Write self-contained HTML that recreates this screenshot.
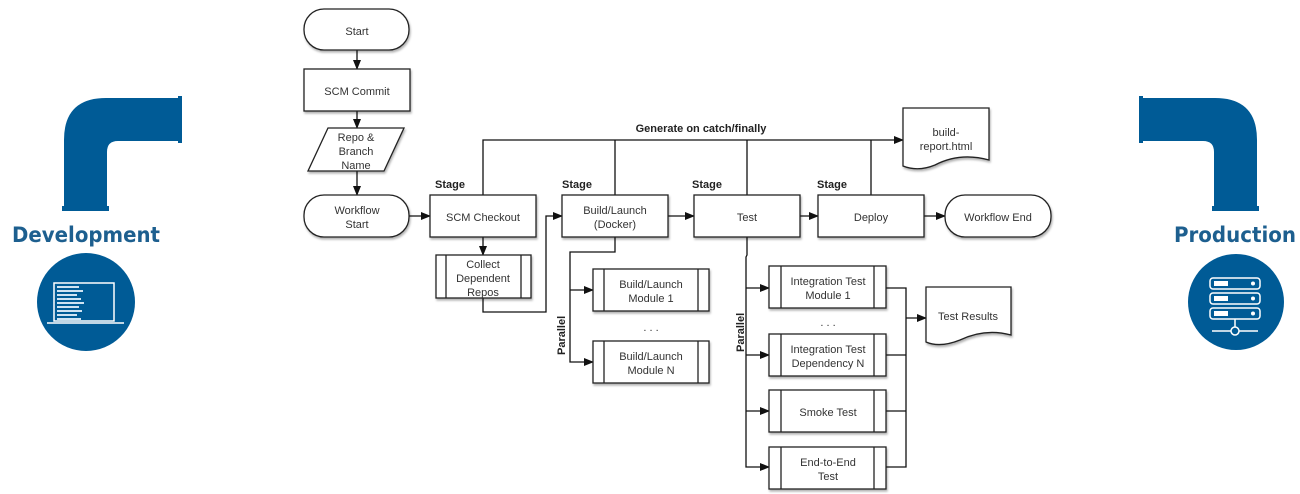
<!DOCTYPE html>
<html><head><meta charset="utf-8"><style>
html,body{margin:0;padding:0;background:#fff;}
svg{display:block;}
.t{font-family:"Liberation Sans",sans-serif;font-size:11px;fill:#333;text-anchor:middle;}
.b{font-family:"Liberation Sans",sans-serif;font-size:11px;font-weight:bold;fill:#222;}
.big{font-family:"DejaVu Sans",sans-serif;font-size:21px;font-weight:bold;fill:#1d5f8f;}
</style></head><body>
<svg width="1300" height="494" viewBox="0 0 1300 494" xmlns="http://www.w3.org/2000/svg">
<defs>
<marker id="a" markerWidth="10" markerHeight="8" refX="9" refY="4" orient="auto" markerUnits="userSpaceOnUse"><path d="M0,0 L10,4 L0,8 z" fill="#111"/></marker>
<filter id="s" x="-10%" y="-10%" width="130%" height="140%"><feDropShadow dx="1" dy="2" stdDeviation="1" flood-color="#000" flood-opacity="0.3"/></filter>
</defs>
<g fill="#005b96">
<path d="M64,210 L64,140 Q64,98 106,98 L180,98 L180,141 L118,141 Q107,141 107,152 L107,210 Z"/>
<rect x="62" y="206" width="47" height="5"/>
<rect x="178" y="96" width="4" height="47"/>
<path d="M1257,210 L1257,140 Q1257,98 1215,98 L1141,98 L1141,141 L1203,141 Q1214,141 1214,152 L1214,210 Z"/>
<rect x="1212" y="206" width="47" height="5"/>
<rect x="1139" y="96" width="4" height="47"/>
<circle cx="86" cy="302" r="49"/>
<circle cx="1236" cy="302" r="48"/>
</g>
<text class="big" x="12" y="242" textLength="148" lengthAdjust="spacingAndGlyphs">Development</text>
<text class="big" x="1174" y="242" textLength="122" lengthAdjust="spacingAndGlyphs">Production</text>
<g stroke="#fff" fill="none" stroke-width="1.5">
<rect x="54" y="283" width="60" height="38"/>
<line x1="47" y1="323" x2="124" y2="323"/>
</g>
<g fill="#cfe3f2">
<rect x="57" y="286" width="22" height="2"/><rect x="57" y="290" width="26" height="2"/><rect x="57" y="294" width="20" height="2"/><rect x="57" y="298" width="24" height="2"/><rect x="57" y="302" width="27" height="2"/><rect x="57" y="306" width="22" height="2"/><rect x="57" y="310" width="25" height="2"/><rect x="57" y="314" width="20" height="2"/><rect x="57" y="318" width="24" height="2"/>
</g>
<g stroke="#fff" fill="none" stroke-width="1.5">
<rect x="1210" y="278" width="50" height="11" rx="3"/>
<rect x="1210" y="293" width="50" height="11" rx="3"/>
<rect x="1210" y="308" width="50" height="11" rx="3"/>
<line x1="1235" y1="319" x2="1235" y2="327"/>
<line x1="1212" y1="331" x2="1231" y2="331"/><line x1="1239" y1="331" x2="1258" y2="331"/>
<circle cx="1235" cy="331" r="4"/>
</g>
<g fill="#fff"><circle cx="1253" cy="283.5" r="2"/><circle cx="1253" cy="298.5" r="2"/><circle cx="1253" cy="313.5" r="2"/>
<rect x="1214" y="281" width="14" height="5"/><rect x="1214" y="296" width="14" height="5"/><rect x="1214" y="311" width="14" height="5"/></g>

<g stroke="#111" stroke-width="1.3" fill="none">
<line x1="357" y1="50" x2="357" y2="69" marker-end="url(#a)"/>
<line x1="357" y1="111" x2="357" y2="128" marker-end="url(#a)"/>
<line x1="357" y1="171" x2="357" y2="195" marker-end="url(#a)"/>
<line x1="409" y1="216" x2="430" y2="216" marker-end="url(#a)"/>
<line x1="483" y1="237" x2="483" y2="255" marker-end="url(#a)"/>
<polyline points="483,298 483,312 546,312 546,216 562,216" marker-end="url(#a)"/>
<line x1="668" y1="216" x2="694" y2="216" marker-end="url(#a)"/>
<line x1="800" y1="216" x2="818" y2="216" marker-end="url(#a)"/>
<line x1="924" y1="216" x2="945" y2="216" marker-end="url(#a)"/>
<polyline points="483,195 483,140 903,140" marker-end="url(#a)"/>
<line x1="615" y1="140" x2="615" y2="195"/>
<line x1="747" y1="140" x2="747" y2="195"/>
<line x1="871" y1="140" x2="871" y2="195"/>
<polyline points="615,237 615,252 570,252 570,362 593,362" marker-end="url(#a)"/>
<line x1="570" y1="290" x2="593" y2="290" marker-end="url(#a)"/>
<polyline points="747,237 747,255 746,257 746,467 769,467" marker-end="url(#a)"/>
<line x1="746" y1="288" x2="769" y2="288" marker-end="url(#a)"/>
<line x1="746" y1="355" x2="769" y2="355" marker-end="url(#a)"/>
<line x1="746" y1="411" x2="769" y2="411" marker-end="url(#a)"/>
<polyline points="886,288 906,288 906,467 886,467"/>
<line x1="886" y1="355" x2="906" y2="355"/>
<line x1="886" y1="411" x2="906" y2="411"/>
<line x1="906" y1="318" x2="926" y2="318" marker-end="url(#a)"/>
</g>

<g stroke="#222" stroke-width="1.3" fill="#fff" filter="url(#s)">
<rect x="304" y="9" width="105" height="41" rx="20"/>
<rect x="304" y="69" width="106" height="42"/>
<polygon points="328,128 404,128 384,171 308,171"/>
<rect x="304" y="195" width="105" height="42" rx="20"/>
<rect x="430" y="195" width="106" height="42"/>
<rect x="436" y="255" width="95" height="43"/>
<rect x="562" y="195" width="106" height="42"/>
<rect x="694" y="195" width="106" height="42"/>
<rect x="818" y="195" width="106" height="42"/>
<rect x="945" y="195" width="106" height="42" rx="20"/>
<rect x="593" y="269" width="116" height="42"/>
<rect x="593" y="341" width="116" height="42"/>
<rect x="769" y="266" width="117" height="42"/>
<rect x="769" y="334" width="117" height="42"/>
<rect x="769" y="390" width="117" height="42"/>
<rect x="769" y="447" width="117" height="42"/>
<path d="M903,108 L989,108 L989,160 Q960,152 935,165 Q918,172 903,166 Z"/>
<path d="M926,287 L1011,287 L1011,335 Q985,328 960,340 Q940,348 926,342 Z"/>
</g>
<g stroke="#222" stroke-width="1.3">
<line x1="446" y1="255" x2="446" y2="298"/><line x1="521" y1="255" x2="521" y2="298"/>
<line x1="604" y1="269" x2="604" y2="311"/><line x1="698" y1="269" x2="698" y2="311"/>
<line x1="604" y1="341" x2="604" y2="383"/><line x1="698" y1="341" x2="698" y2="383"/>
<line x1="781" y1="266" x2="781" y2="308"/><line x1="874" y1="266" x2="874" y2="308"/>
<line x1="781" y1="334" x2="781" y2="376"/><line x1="874" y1="334" x2="874" y2="376"/>
<line x1="781" y1="390" x2="781" y2="432"/><line x1="874" y1="390" x2="874" y2="432"/>
<line x1="781" y1="447" x2="781" y2="489"/><line x1="874" y1="447" x2="874" y2="489"/>
</g>

<text class="t" x="357" y="35">Start</text>
<text class="t" x="357" y="95">SCM Commit</text>
<text class="t" x="356" y="141">Repo &amp;</text><text class="t" x="356" y="155">Branch</text><text class="t" x="356" y="169">Name</text>
<text class="t" x="357" y="214">Workflow</text><text class="t" x="357" y="228">Start</text>
<text class="t" x="483" y="221">SCM Checkout</text>
<text class="t" x="483" y="268">Collect</text><text class="t" x="483" y="282">Dependent</text><text class="t" x="483" y="296">Repos</text>
<text class="t" x="615" y="214">Build/Launch</text><text class="t" x="615" y="228">(Docker)</text>
<text class="t" x="747" y="221">Test</text>
<text class="t" x="871" y="221">Deploy</text>
<text class="t" x="998" y="221">Workflow End</text>
<text class="t" x="946" y="136">build-</text><text class="t" x="946" y="150">report.html</text>
<text class="t" x="651" y="288">Build/Launch</text><text class="t" x="651" y="302">Module 1</text>
<text class="t" x="651" y="360">Build/Launch</text><text class="t" x="651" y="374">Module N</text>
<text class="t" x="651" y="331">. . .</text>
<text class="t" x="828" y="285">Integration Test</text><text class="t" x="828" y="299">Module 1</text>
<text class="t" x="828" y="326">. . .</text>
<text class="t" x="828" y="353">Integration Test</text><text class="t" x="828" y="367">Dependency N</text>
<text class="t" x="828" y="416">Smoke Test</text>
<text class="t" x="828" y="466">End-to-End</text><text class="t" x="828" y="480">Test</text>
<text class="t" x="968" y="320">Test Results</text>
<text class="b" x="701" y="132" text-anchor="middle">Generate on catch/finally</text>
<text class="b" x="435" y="188">Stage</text>
<text class="b" x="562" y="188">Stage</text>
<text class="b" x="692" y="188">Stage</text>
<text class="b" x="817" y="188">Stage</text>
<text class="b" transform="translate(565,355) rotate(-90)">Parallel</text>
<text class="b" transform="translate(744,352) rotate(-90)">Parallel</text>
</svg>
</body></html>
